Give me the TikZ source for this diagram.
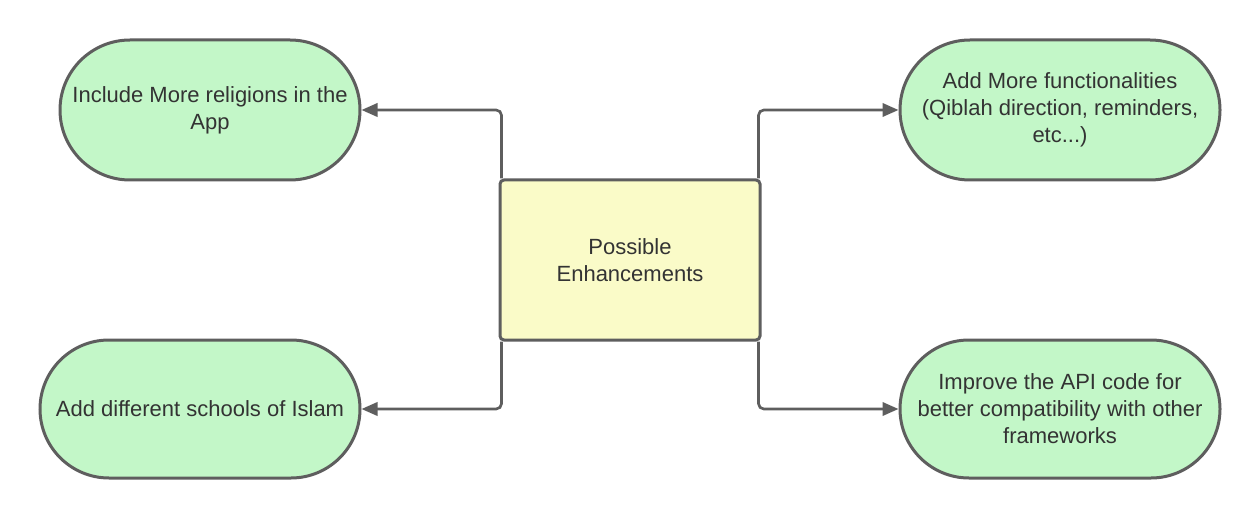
\documentclass[tikz,border=0pt]{standalone}
\usepackage{fontspec}
\setmainfont{Liberation Sans}
\usetikzlibrary{arrows.meta}
\definecolor{strk}{HTML}{5E5E5E}
\definecolor{gfill}{HTML}{C3F7C8}
\definecolor{yfill}{HTML}{FAFBC8}
\definecolor{txt}{HTML}{333333}
\tikzset{
  pill/.style={draw=strk, fill=gfill, line width=2.25pt, inner sep=0pt, align=center,
    font=\fontsize{16.5pt}{20.25pt}\selectfont, text=txt},
  centerbox/.style={draw=strk, fill=yfill, line width=2.25pt, rounded corners=3pt, inner sep=0pt,
    align=center, minimum width=195pt, minimum height=120pt,
    font=\fontsize{16.5pt}{20.25pt}\selectfont, text=txt},
  conn/.style={draw=strk, line width=2pt, rounded corners=4pt,
    -{Triangle[length=12pt,width=10pt]}}
}
\begin{document}
\begin{tikzpicture}[x=0.75pt,y=-0.75pt]
\useasboundingbox (0,0) rectangle (1260,520);
\node[centerbox] (c) at (630,260) {Possible\\Enhancements};
\node[pill, minimum width=225pt, minimum height=105pt, rounded corners=52.5pt] (tl) at (210,110) {Include More religions in the\\App};
\node[pill, minimum width=240pt, minimum height=103.5pt, rounded corners=51.75pt] (bl) at (200,409) {Add different schools of Islam};
\node[pill, minimum width=240pt, minimum height=105pt, rounded corners=52.5pt] (tr) at (1060,110) {Add More functionalities\\(Qiblah direction, reminders,\\etc...)};
\node[pill, minimum width=240pt, minimum height=103.5pt, rounded corners=51.75pt] (br) at (1060,409) {Improve the API code for\\better compatibility with other\\frameworks};
\coordinate (ctl) at ([xshift=2.25pt]c.north west);
\coordinate (cbl) at ([xshift=2.25pt]c.south west);
\coordinate (ctr) at ([xshift=-2.25pt]c.north east);
\coordinate (cbr) at ([xshift=-2.25pt]c.south east);
\draw[conn] (ctl) |- (tl.east);
\draw[conn] (cbl) |- (bl.east);
\draw[conn] (ctr) |- (tr.west);
\draw[conn] (cbr) |- (br.west);
\end{tikzpicture}
\end{document}
